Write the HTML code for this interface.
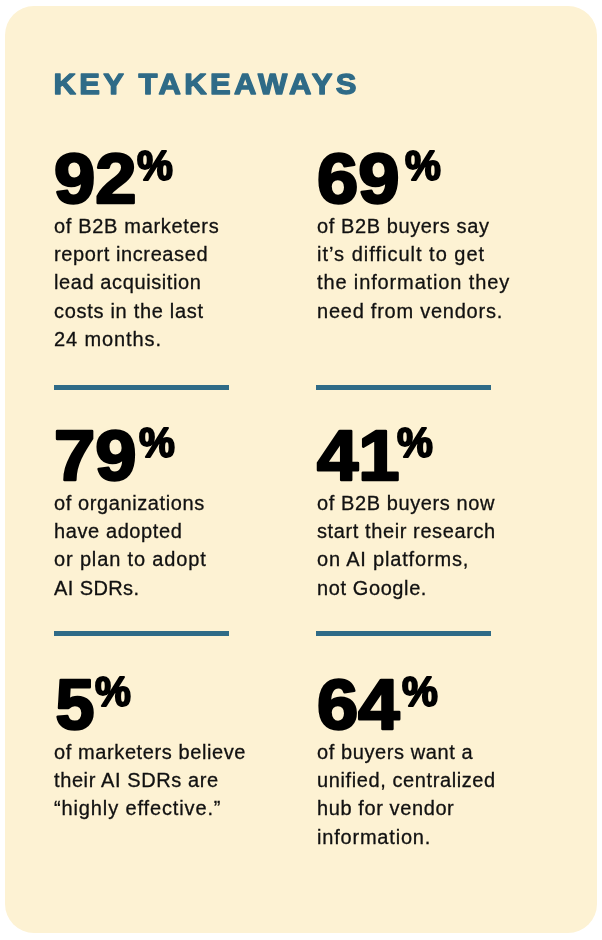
<!DOCTYPE html>
<html lang="en">
<head>
<meta charset="utf-8">
<title>Key Takeaways</title>
<style>
  html, body { margin: 0; padding: 0; background: #ffffff; }
  body { width: 602px; height: 940px; position: relative; overflow: hidden;
         font-family: "Liberation Sans", sans-serif; }
  .card { position: absolute; left: 5px; top: 6px; width: 592px; height: 927px;
          background: #fdf2d3; border-radius: 29px; }
  h1 { position: absolute; left: 0; top: 50px; margin: 0; width: 602px; height: 60px; font-size: 30px; font-weight: bold; }
  h1 svg { display: block; overflow: visible; }
  h1 text { fill: #2f6b87; stroke: #2f6b87; stroke-width: 1.3px; stroke-linejoin: round; letter-spacing: 3.2px; }
  .stat { position: absolute; width: 260px; }
  .num { display: block; height: 72px; margin-top: 0; margin-left: 0; overflow: visible; font-weight: bold; fill: #000; stroke: #000; stroke-linejoin: round; }
  .num .d { font-size: 70px; stroke-width: 2.6px; }
  .num .p { font-size: 42px; stroke-width: 2px; }
  .txt { font-size: 20px; line-height: 28.2px; color: #111; margin: 0; white-space: nowrap; letter-spacing: 0.6px; -webkit-text-stroke: 0.3px #111; }
  .rule { position: absolute; height: 5px; width: 175px; background: #2f6b87; }
  .c1 { left: 54px; } .c2 { left: 317px; }
</style>
</head>
<body>
<div class="card"></div>
<h1><svg width="602" height="60"><text transform="translate(53.5,44) scale(1.035,1)">KEY TAKEAWAYS</text></svg></h1>

<div class="stat c1" style="top:140px">
  <svg class="num" width="240" height="72"><text class="d" transform="translate(0,63) scale(1.06,1)">92</text><text class="p" transform="translate(83,40) scale(0.96,1)">%</text></svg>
  <p class="txt"><span style="letter-spacing:0.68px">of B2B marketers</span><br>report increased<br>lead acquisition<br><span style="letter-spacing:0.70px">costs in the last</span><br><span style="letter-spacing:0.90px">24 months.</span></p>
</div>
<div class="stat c2" style="top:140px">
  <svg class="num" width="240" height="72"><text class="d" transform="translate(0,63) scale(1.06,1)">69</text><text class="p" transform="translate(88,40) scale(0.96,1)">%</text></svg>
  <p class="txt">of B2B buyers say<br><span style="letter-spacing:1.00px">it’s difficult to get</span><br><span style="letter-spacing:0.87px">the information they</span><br><span style="letter-spacing:0.76px">need from vendors.</span></p>
</div>
<div class="rule c1" style="top:385px"></div>
<div class="rule c2" style="top:385px;left:316px"></div>

<div class="stat c1" style="top:417px">
  <svg class="num" width="240" height="72"><text class="d" transform="translate(0,63) scale(1.06,1)">79</text><text class="p" transform="translate(85,40) scale(0.96,1)">%</text></svg>
  <p class="txt">of organizations<br>have adopted<br><span style="letter-spacing:0.85px">or plan to adopt</span><br><span style="letter-spacing:0.40px">AI SDRs.</span></p>
</div>
<div class="stat c2" style="top:417px">
  <svg class="num" width="240" height="72"><text class="d" transform="translate(0,63) scale(1.06,1)">41</text><text class="p" transform="translate(80,40) scale(0.96,1)">%</text></svg>
  <p class="txt">of B2B buyers now<br>start their research<br><span style="letter-spacing:0.82px">on AI platforms,</span><br>not Google.</p>
</div>
<div class="rule c1" style="top:631px"></div>
<div class="rule c2" style="top:631px;left:316px"></div>

<div class="stat c1" style="top:666px">
  <svg class="num" width="240" height="72"><text class="d" transform="translate(1.5,63) scale(1,1)">5</text><text class="p" transform="translate(41,40) scale(0.96,1)">%</text></svg>
  <p class="txt">of marketers believe<br>their AI SDRs are<br><span style="letter-spacing:0.87px">“highly effective.”</span></p>
</div>
<div class="stat c2" style="top:666px">
  <svg class="num" width="240" height="72"><text class="d" transform="translate(0,63) scale(1.06,1)">64</text><text class="p" transform="translate(85,40) scale(0.96,1)">%</text></svg>
  <p class="txt">of buyers want a<br>unified, centralized<br>hub for vendor<br><span style="letter-spacing:0.80px">information.</span></p>
</div>
</body>
</html>
